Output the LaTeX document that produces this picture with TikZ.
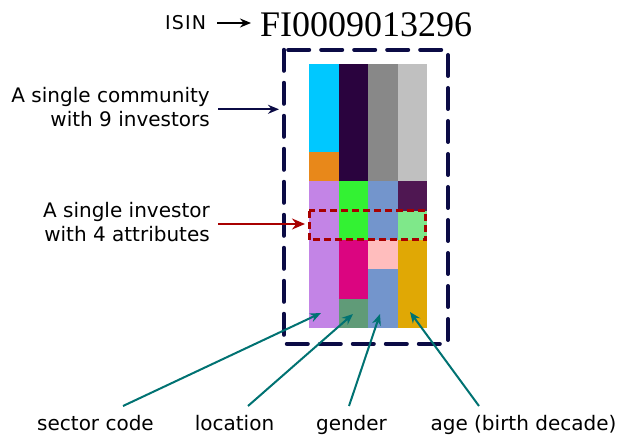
\documentclass[tikz,border=0pt]{standalone}
\usepackage{fontspec}
\usetikzlibrary{arrows.meta}
\newfontfamily\labelfont{DejaVu Sans}
\newfontfamily\isinfont{Liberation Serif}

% cell colours
\definecolor{cCyan}{HTML}{00C8FF}
\definecolor{cOrange}{HTML}{E8881A}
\definecolor{cViolet}{HTML}{C384E6}
\definecolor{cDeepPurple}{HTML}{2A033E}
\definecolor{cGreen}{HTML}{33F233}
\definecolor{cMagenta}{HTML}{DB0580}
\definecolor{cSage}{HTML}{609B78}
\definecolor{cGray}{HTML}{888888}
\definecolor{cBlue}{HTML}{7395CC}
\definecolor{cPink}{HTML}{FFBDBD}
\definecolor{cSilver}{HTML}{C0C0C0}
\definecolor{cPlum}{HTML}{4F1752}
\definecolor{cMint}{HTML}{7FE88A}
\definecolor{cGold}{HTML}{E0A805}
% line colours
\definecolor{navyline}{HTML}{0B0B45}
\definecolor{redline}{HTML}{A80000}
\definecolor{tealline}{HTML}{007272}

\tikzset{
  lbl/.style={font=\labelfont\fontsize{20}{24.5}\selectfont, inner sep=0pt, text=black},
  pointer/.style={line width=2pt, tealline, -{Stealth[length=11pt,width=9pt]}},
  communitybox/.style={draw=navyline, line width=4pt, line cap=round, line join=round,
                       dash pattern=on 21pt off 12pt},
  investorbox/.style={draw=redline, line width=3pt, dash pattern=on 7pt off 4pt},
}

% one investor-attribute cell: column, first row, number of rows, colour
\newcommand{\attrcell}[4]{%
  \fill[#4] ({309+(#1)*29.5},{64+(#2)*29.333}) rectangle ({309+(#1+1)*29.5},{64+(#2+#3)*29.333});}

\begin{document}
\begin{tikzpicture}[x=1pt, y=-1pt]
\useasboundingbox (0,0) rectangle (621,435);

% ---- community grid (4 attributes x 9 investors) ----
% sector code
\attrcell{0}{0}{3}{cCyan}
\attrcell{0}{3}{1}{cOrange}
\attrcell{0}{4}{5}{cViolet}
% location
\attrcell{1}{0}{4}{cDeepPurple}
\attrcell{1}{4}{2}{cGreen}
\attrcell{1}{6}{2}{cMagenta}
\attrcell{1}{8}{1}{cSage}
% gender
\attrcell{2}{0}{4}{cGray}
\attrcell{2}{4}{2}{cBlue}
\attrcell{2}{6}{1}{cPink}
\attrcell{2}{7}{2}{cBlue}
% age
\attrcell{3}{0}{4}{cSilver}
\attrcell{3}{4}{1}{cPlum}
\attrcell{3}{5}{1}{cMint}
\attrcell{3}{6}{3}{cGold}

% ---- dashed frames ----
\draw[communitybox] (283.8,49.8) rectangle (448,343.8);
\draw[investorbox] (309,210.8) rectangle (425.8,240);

% ---- title ----
\node[font=\labelfont\fontsize{19}{22}\selectfont\addfontfeature{LetterSpace=6}, inner sep=0pt, anchor=base west] (isin) at (165,30) {ISIN};
\node[font=\isinfont\fontsize{36}{40}\selectfont, inner sep=0pt, anchor=base west] (code) at (260,36.7) {FI0009013296};
\coordinate (isinTail) at (217,23);
\coordinate (isinTip) at (251,23);
\draw[line width=1.8pt, -{Stealth[length=11pt,width=9pt]}] (isinTail) -- (isinTip);

% ---- side labels (anchored at the baseline of the last line) ----
\node[lbl, align=right, anchor=base east] (community) at (210,126.7)
  {A single community\\with 9 investors};
\node[lbl, align=right, anchor=base east] (investor) at (210,241.7)
  {A single investor\\with 4 attributes};

\coordinate (communityTail) at (218,109.3);
\coordinate (communityTip) at (279,109.3);
\coordinate (investorTail) at (218,224);
\coordinate (investorTip) at (305,224);
\draw[navyline, line width=2pt, -{Stealth[length=11pt,width=9pt]}] (communityTail) -- (communityTip);
\draw[redline, line width=2pt, -{Stealth[length=13pt,width=11pt]}] (investorTail) -- (investorTip);

% ---- attribute labels ----
\node[lbl, anchor=base] (sector) at (95.5,430.5) {sector code};
\node[lbl, anchor=base] (location) at (234.5,430.5) {location};
\node[lbl, anchor=base] (gender) at (351.5,430.5) {gender};
\node[lbl, anchor=base] (age) at (523.5,430.5) {age (birth decade)};

\coordinate (sectorTail) at (123,406);
\coordinate (sectorTip) at (321,313);
\coordinate (locationTail) at (248,406);
\coordinate (locationTip) at (353,314);
\coordinate (genderTail) at (349,406);
\coordinate (genderTip) at (380,314);
\coordinate (ageTail) at (479,406);
\coordinate (ageTip) at (410,312);

\draw[pointer] (sectorTail) -- (sectorTip);
\draw[pointer] (locationTail) -- (locationTip);
\draw[pointer] (genderTail) -- (genderTip);
\draw[pointer] (ageTail) -- (ageTip);
\end{tikzpicture}
\end{document}
